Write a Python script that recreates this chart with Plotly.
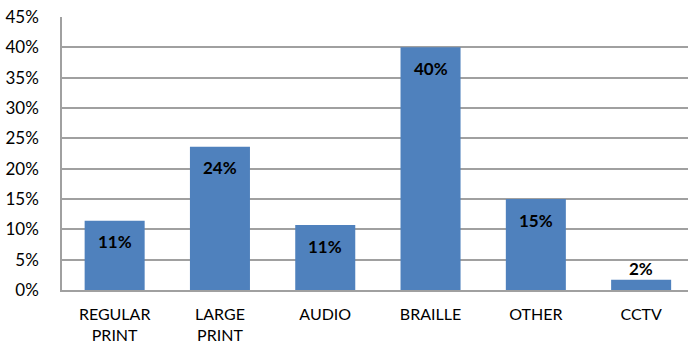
import plotly.graph_objects as go

categories = ["REGULAR<br>PRINT", "LARGE<br>PRINT", "AUDIO", "BRAILLE", "OTHER", "CCTV"]
values = [0.114, 0.236, 0.107, 0.400, 0.150, 0.017]
labels = ["11%", "24%", "11%", "40%", "15%", "2%"]
label_inside = [True, True, True, True, True, False]
y_ticks = [0, 0.05, 0.10, 0.15, 0.20, 0.25, 0.30, 0.35, 0.40, 0.45]

fig = go.Figure(go.Bar(
    x=categories, y=values,
    marker=dict(color="#4f81bd", line=dict(width=0)),
))
for c, v, t, ins in zip(categories, values, labels, label_inside):
    fig.add_annotation(x=c, y=v, text=t, showarrow=False,
                       yshift=-21 if ins else 11,
                       font=dict(family="Lato", size=17, color="black", weight="bold"))
fig.update_layout(
    width=688, height=346,
    margin=dict(l=62, r=0, t=17, b=56),
    paper_bgcolor="white", plot_bgcolor="white",
    bargap=0.43, showlegend=False,
    font=dict(family="Lato", size=16, color="black"),
)
fig.update_xaxes(range=[-0.5, 5.445], showline=True, linecolor="#a0a0a0", linewidth=1.5,
                 ticks="", tickfont=dict(size=16), ticklabelstandoff=9, automargin=False)
fig.update_yaxes(range=[0, 0.45], tickvals=y_ticks, tickformat=".0%",
                 showgrid=True, gridcolor="#a0a0a0", gridwidth=1.5,
                 showline=True, linecolor="#a0a0a0", linewidth=1.5, automargin=False,
                 zeroline=False, ticks="", tickfont=dict(size=17), ticklabelstandoff=18)
fig.write_html("out.html")
